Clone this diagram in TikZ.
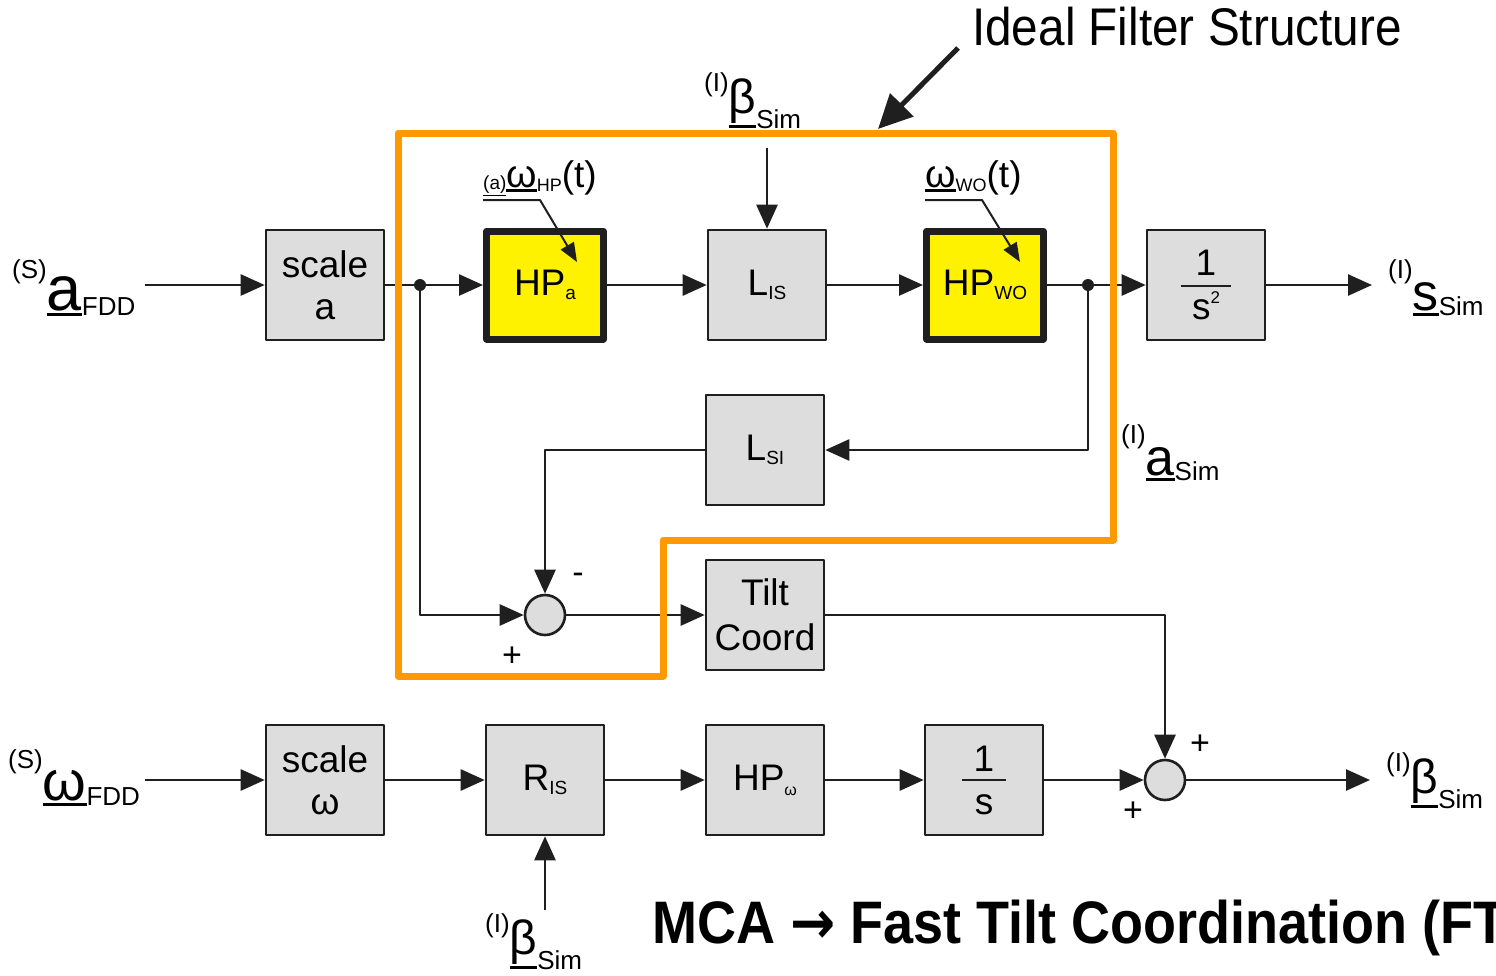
\documentclass[tikz,border=0pt]{standalone}
\usepackage{graphicx}
\usepackage{fontspec}
\setmainfont{Liberation Sans}
\newfontfamily\arrowfont{DejaVu Sans}
\usetikzlibrary{arrows.meta}
\definecolor{boxgray}{RGB}{221,221,221}
\definecolor{hpyellow}{RGB}{255,242,0}
\definecolor{ideal}{RGB}{255,153,0}
\colorlet{ink}{black!88}
\newcommand{\fs}[1]{\fontsize{#1}{#1}\selectfont}
% underlined symbol, rule just below the glyph
\newsavebox\ulbox
\newcommand{\ul}[2][3pt]{\sbox\ulbox{#2}\rlap{\rule[\dimexpr-\dp\ulbox-2pt-#1\relax]{\wd\ulbox}{#1}}\usebox\ulbox}
% signal: [lift of symbol] size, frame, symbol, index
\newcommand{\sig}[5][0pt]{\raisebox{32pt}{\fs{26}(#3)}\raisebox{#1}{\ul{\fs{#2}#4}}\raisebox{-5pt}{\fs{26}#5}}
\newcommand{\idx}[1]{\raisebox{-4pt}{\fs{19}#1}}
\begin{document}
\begin{tikzpicture}[x=1pt, y=-1pt, line join=round, >={Triangle[length=24pt,width=21pt]},
  blk/.style={draw=ink, line width=2.6pt, fill=boxgray, minimum width=118pt, minimum height=110pt,
    inner sep=0pt, align=center, font=\fontsize{37}{42}\selectfont},
  hpblk/.style={blk, fill=hpyellow, line width=7pt, minimum width=117pt, minimum height=108pt},
  sum/.style={circle, draw=ink, line width=2.6pt, fill=boxgray, minimum size=40pt, inner sep=0pt},
  sgn/.style={font=\fs{34}, inner sep=0pt},
  lbl/.style={anchor=base west, inner sep=0pt},
  wire/.style={draw=ink, line width=2.6pt},
  hint/.style={draw=ink, line width=2pt, -{Triangle[length=19pt,width=15pt]}}]
\useasboundingbox (0,0) rectangle (1496,975);

% blocks
\node[blk] (scaleA) at (325,285) {scale\\a};
\node[hpblk] (hpA) at (545,285) {HP\idx{a}};
\node[blk] (lIS) at (767,285) {L\idx{IS}};
\node[hpblk] (hpWO) at (985,285) {HP\idx{WO}};
\node[blk, font=\fontsize{37}{44}\selectfont] (int2) at (1206,285) {1\\s\raisebox{16pt}{\fs{17}2}};
\node[blk] (lSI) at (765,450) {L\idx{SI}};
\node[blk, font=\fontsize{37}{45}\selectfont] (tilt) at (765,615) {Tilt\\Coord};
\node[blk] (scaleW) at (325,780) {scale\\ω};
\node[blk] (rIS) at (545,780) {R\idx{IS}};
\node[blk] (hpW) at (765,780) {HP\raisebox{-5pt}{\fs{16}ω}};
\node[blk, font=\fontsize{37}{43}\selectfont] (int1) at (984,780) {1\\s};
\draw[ink, line width=2pt] ([xshift=-25pt,yshift=-1pt]int2.center) -- ([xshift=25pt,yshift=-1pt]int2.center);
\draw[ink, line width=2pt] ([xshift=-22pt]int1.center) -- ([xshift=22pt]int1.center);

% summing points
\node[sum] (sum1) at (545,615) {};
\node[sum] (sum2) at (1165,780) {};
\node[sgn] (m1) at (578,578) {-};
\node[sgn] (p1) at (512,657) {+};
\node[sgn] (p2) at (1200,745) {+};
\node[sgn] (p3) at (1133,812) {+};

% signals
\node[lbl] (aFDD) at (12,310) {\sig{63}{S}{a}{FDD}};
\node[lbl] (wFDD) at (8,800) {\sig{56}{S}{ω}{FDD}};
\node[lbl] (sSim) at (1388,310) {\sig{52}{I}{s}{Sim}};
\node[lbl] (aSim) at (1121,475) {\sig{52}{I}{a}{Sim}};
\node[lbl] (bTop) at (704,123) {\sig[10pt]{48}{I}{β}{Sim}};
\node[lbl] (bOut) at (1386,803) {\sig[10pt]{48}{I}{β}{Sim}};
\node[lbl] (bBot) at (485,964) {\sig[10pt]{48}{I}{β}{Sim}};
\node[lbl] (wHP) at (483,187) {\raisebox{-2pt}{\ul[1.5pt]{\fs{19}(a)}}\ul{\fs{39}ω}\raisebox{-4pt}{\fs{18}HP}\fs{37}(t)};
\node[lbl] (wWO) at (925,187) {\ul{\fs{39}ω}\raisebox{-4pt}{\fs{18}WO}\fs{37}(t)};

\coordinate (inA) at (145,285);
\coordinate (inW) at (145,780);
\coordinate (split1) at (420,285);
\coordinate (split2) at (1088,285);
\coordinate (outS) at (1372,285);
\coordinate (outB) at (1370,780);
\coordinate (bIn1) at (767,148);
\coordinate (bIn2) at (545,910);

% acceleration path
\draw[wire,->] (inA) -- (scaleA);
\draw[wire] (scaleA) -- (split1);
\draw[wire,->] (split1) -- (hpA);
\draw[wire,->] (hpA) -- (lIS);
\draw[wire,->] (lIS) -- (hpWO);
\draw[wire] (hpWO) -- (split2);
\draw[wire,->] (split2) -- (int2);
\draw[wire,->] (int2) -- (outS);
\draw[wire,->] (bIn1) -- (lIS);
\draw[wire,->] (split2) |- (lSI);
\draw[wire,->] (lSI) -| (sum1);
\draw[wire,->] (split1) |- (sum1);
\draw[wire,->] (sum1) -- (tilt);
\draw[wire,->] (tilt) -| (sum2);
\fill[ink] (split1) circle (6pt) (split2) circle (6pt);
\draw[hint] (483,200) -- (540,200) -- (577,262);
\draw[hint] (925,200) -- (982,200) -- (1020,262);

% rotation path
\draw[wire,->] (inW) -- (scaleW);
\draw[wire,->] (scaleW) -- (rIS);
\draw[wire,->] (rIS) -- (hpW);
\draw[wire,->] (hpW) -- (int1);
\draw[wire,->] (int1) -- (sum2);
\draw[wire,->] (sum2) -- (outB);
\draw[wire,->] (bIn2) -- (rIS);

% ideal filter structure
\draw[ideal, line width=7pt] (398,133) -- (1113,133) -- (1113,540) -- (663,540) -- (663,676) -- (398,676) -- cycle;
\node[anchor=base west, inner sep=0pt] (ifs) at (972,45) {\scalebox{0.9}[1]{\fs{53}Ideal Filter Structure}};
\coordinate (ifsTail) at (958,48);
\coordinate (ifsTip) at (878,129);
\draw[ink, line width=5pt, -{Triangle[length=34pt,width=32pt]}] (ifsTail) -- (ifsTip);

\node[anchor=base west, inner sep=0pt] (title) at (652,943) {\scalebox{0.9}[1]{\fs{60}\bfseries MCA {\arrowfont\bfseries →} Fast Tilt Coordination (FT}};
\end{tikzpicture}
\end{document}
